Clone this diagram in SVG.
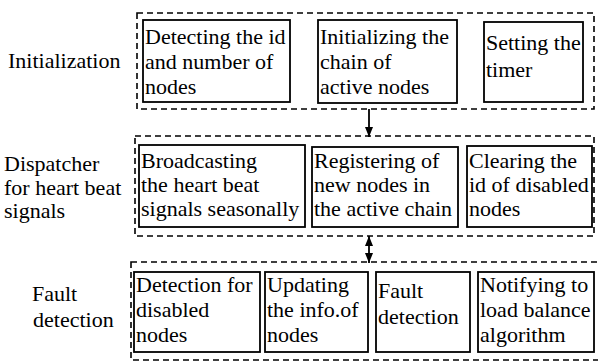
<svg xmlns="http://www.w3.org/2000/svg" width="598" height="361" viewBox="0 0 598 361" font-family="'Liberation Serif', 'Times New Roman', 'DejaVu Serif', serif" font-size="22">
<style>
text{font-family:'Liberation Serif','Times New Roman','DejaVu Serif',serif;font-size:22px;fill:#000}
.grp{fill:none;stroke:#000;stroke-width:1.6;stroke-dasharray:6 4}
.box{fill:#fff;stroke:#000;stroke-width:1.8}
.conn{stroke:#000;stroke-width:1.8;fill:none}
</style>
<defs>
<marker id="ah" viewBox="0 0 10 10" markerWidth="10" markerHeight="8" refX="10" refY="5" orient="auto-start-reverse" markerUnits="userSpaceOnUse" preserveAspectRatio="none">
<path d="M0,0 L10,5 L0,10 z" fill="#000"/>
</marker>
</defs>
<rect width="598" height="361" fill="#fff"/>

<g id="stage-initialization">
<rect class="grp" x="137" y="13" width="457" height="96"/>
<text x="8" y="68">Initialization</text>
</g>
<g id="stage-dispatcher">
<rect class="grp" x="135" y="136" width="459" height="100"/>
<text><tspan x="4" y="171">Dispatcher</tspan><tspan x="4" y="195">for heart beat</tspan><tspan x="4" y="218">signals</tspan></text>
</g>
<g id="stage-fault">
<rect class="grp" x="131" y="262" width="480" height="98"/>
<text><tspan x="32" y="301">Fault</tspan><tspan x="33" y="327">detection</tspan></text>
</g>

<g id="n-detecting">
<rect class="box" x="143" y="20" width="147" height="82"/>
<text><tspan x="145" y="44">Detecting the id</tspan><tspan x="145" y="69">and number of</tspan><tspan x="145" y="94">nodes</tspan></text>
</g>
<g id="n-init-chain">
<rect class="box" x="318" y="20" width="139" height="83"/>
<text><tspan x="320" y="44">Initializing the</tspan><tspan x="320" y="69">chain of</tspan><tspan x="320" y="94">active nodes</tspan></text>
</g>
<g id="n-timer">
<rect class="box" x="484" y="22" width="99" height="80"/>
<text><tspan x="486" y="50">Setting the</tspan><tspan x="486" y="77">timer</tspan></text>
</g>

<g id="n-broadcast">
<rect class="box" x="139" y="145" width="166" height="82"/>
<text><tspan x="141" y="168">Broadcasting</tspan><tspan x="141" y="192">the heart beat</tspan><tspan x="141" y="216">signals seasonally</tspan></text>
</g>
<g id="n-register">
<rect class="box" x="312" y="147" width="146" height="80"/>
<text><tspan x="314" y="168">Registering of</tspan><tspan x="314" y="192">new nodes in</tspan><tspan x="314" y="216">the active chain</tspan></text>
</g>
<g id="n-clearing">
<rect class="box" x="467" y="146" width="125" height="81"/>
<text><tspan x="469" y="168">Clearing the</tspan><tspan x="469" y="192">id of disabled</tspan><tspan x="469" y="216">nodes</tspan></text>
</g>

<g id="n-detection">
<rect class="box" x="134" y="272" width="126" height="80"/>
<text><tspan x="136" y="292">Detection for</tspan><tspan x="136" y="317">disabled</tspan><tspan x="136" y="342">nodes</tspan></text>
</g>
<g id="n-updating">
<rect class="box" x="265" y="272" width="103" height="80"/>
<text><tspan x="267" y="292">Updating</tspan><tspan x="267" y="317">the info.of</tspan><tspan x="267" y="342">nodes</tspan></text>
</g>
<g id="n-fault">
<rect class="box" x="376" y="272" width="94" height="80"/>
<text><tspan x="378" y="298">Fault</tspan><tspan x="378" y="324">detection</tspan></text>
</g>
<g id="n-notify">
<rect class="box" x="478" y="272" width="116" height="80"/>
<text><tspan x="480" y="292">Notifying to</tspan><tspan x="480" y="317">load balance</tspan><tspan x="480" y="342">algorithm</tspan></text>
</g>

<g id="connectors">
<line class="conn" x1="369" y1="109" x2="369" y2="137" marker-end="url(#ah)"/>
<line class="conn" x1="369" y1="236" x2="369" y2="263" marker-start="url(#ah)" marker-end="url(#ah)"/>
</g>
</svg>
